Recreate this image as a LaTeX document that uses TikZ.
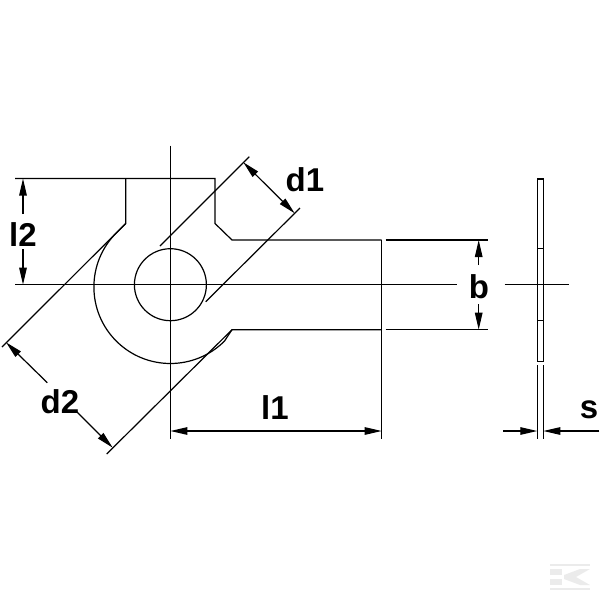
\documentclass[tikz,border=0pt]{standalone}
\usepackage{fontspec}
\setmainfont{Liberation Sans}
\usetikzlibrary{arrows.meta}
\definecolor{logogrey}{gray}{0.92}
\tikzset{
  part/.style={line width=1.2pt},
  dimline/.style={line width=1.2pt},
  dimarrow/.style={line width=1.2pt,-{Triangle[length=17pt,width=7.5pt]}},
  bothends/.style={line width=1.2pt,{Triangle[length=17pt,width=7.5pt]}-{Triangle[length=17pt,width=7.5pt]}},
  dimlabel/.style={font=\fontsize{33}{33}\selectfont\bfseries,inner sep=0pt}
}
\begin{document}
\begin{tikzpicture}[x=1pt,y=-1pt]
\useasboundingbox (0,0) rectangle (600,600);
\coordinate (centre) at (170.4,284.7);
% washer outline
\draw[part] (125.7,178.5) -- (125.7,223.5) -- (116.3,232.9) arc[start angle=135,end angle=315,radius=76.5pt] -- (232,329.7) -- (381.7,329.7);
\draw[part] (15,178.5) -- (215,178.5) -- (215,223.5) -- (232,240) -- (381.7,240);
\draw[part] (centre) circle[radius=36pt];
% centre lines
\draw[dimline] (15,284.7) -- (457.3,284.7);
\draw[dimline] (170.4,145.7) -- (170.4,439.3);
\draw[dimline] (381.7,240) -- (381.7,439.3);
% slanted extension lines
\draw[dimline] (125.7,223.5) -- (2,347);
\draw[dimline] (232,329.7) -- (106.7,454);
\draw[dimline] (249.3,156.7) -- (160,246);
\draw[dimline] (300,208) -- (205.7,301.7);
% b extension lines
\draw[dimline] (385.7,240) -- (487.7,240);
\draw[dimline] (385.7,329.7) -- (487.7,329.7);
% side view
\draw[part] (537.3,179) rectangle (543.3,361.3);
\draw[dimline] (537.3,248.3) -- (543.3,248.3);
\draw[dimline] (537.3,320.7) -- (543.3,320.7);
\draw[dimline] (504.7,284.7) -- (569.3,284.7);
\draw[dimline] (537.3,365) -- (537.3,439.3);
\draw[dimline] (543.3,365) -- (543.3,439.3);
% labels
\node[dimlabel] (ltwo) at (23,235) {l2};
\node[dimlabel] (done) at (305,180) {d1};
\node[dimlabel] (dtwo) at (60,402) {d2};
\node[dimlabel] (lone) at (275,408) {l1};
\node[dimlabel] (bwidth) at (479,287) {b};
\node[dimlabel] (sthick) at (589,410) {s};
% dimension arrows
\draw[dimarrow] (23,214) -- (23,178.5);
\draw[dimarrow] (23,249) -- (23,284.7);
\draw[bothends] (243.3,162.3) -- (294.7,213.3);
\draw[dimarrow] (47.3,382.7) -- (6,342.3);
\draw[dimarrow] (76.7,411.7) -- (112.7,447.7);
\draw[bothends] (170.4,431) -- (381.7,431);
\draw[dimarrow] (478.7,265) -- (478.7,240);
\draw[dimarrow] (478.7,304) -- (478.7,329.7);
\draw[dimarrow] (503.3,431) -- (537.3,431);
\draw[dimarrow] (599.3,431) -- (543.3,431);
% watermark
\fill[logogrey] (550,564) rectangle (590,566);
\fill[logogrey] (550,588) rectangle (590,590);
\fill[logogrey] (550,569) rectangle (562,575);
\fill[logogrey] (550,579) rectangle (562,585);
\fill[logogrey] (564,575) -- (580,569) -- (590,569) -- (576,577) -- (590,585) -- (580,585) -- (564,579) -- cycle;
\end{tikzpicture}
\end{document}
